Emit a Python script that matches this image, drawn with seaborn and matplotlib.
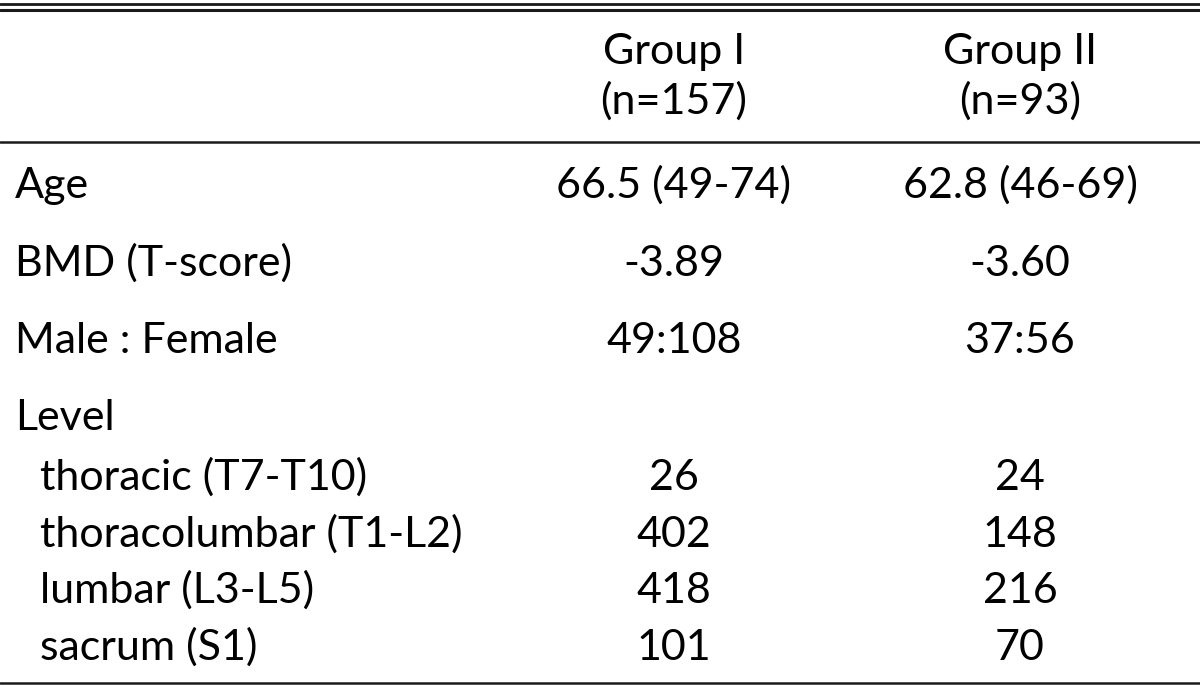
import matplotlib
matplotlib.use("Agg")
import matplotlib.pyplot as plt
import seaborn as sns

# ──────────────────────────────────────────────
# Table content
# ──────────────────────────────────────────────
group_names = ["Group I", "Group II"]
group_sizes = ["(n=157)", "(n=93)"]

row_labels = ["Age", "BMD (T-score)", "Male : Female", "Level",
              "thoracic (T7-T10)", "thoracolumbar (T1-L2)",
              "lumbar (L3-L5)", "sacrum (S1)"]
row_indented = [False, False, False, False, True, True, True, True]
group1_values = ["66.5 (49-74)", "-3.89", "49:108", "",
                 "26", "402", "418", "101"]
group2_values = ["62.8 (46-69)", "-3.60", "37:56", "",
                 "24", "148", "216", "70"]

# layout (pixel coordinates, y downwards)
W, H = 1200, 685
row_baselines = [198, 276, 353, 430, 490, 547, 603, 660]
col_centers = [674, 1020]
FONT = ["Lato", "DejaVu Sans"]
FS = 31

sns.set_theme(style="white")
plt.rcParams["font.family"] = FONT

fig = plt.figure(figsize=(12, 6.85), dpi=100)
ax = fig.add_axes([0, 0, 1, 1])
ax.set_xlim(0, W)
ax.set_ylim(H, 0)
ax.axis("off")

# rules
ax.axhline(3.5, color="#1a1a1a", lw=2.0)
ax.axhline(9.5, color="#1a1a1a", lw=2.2)
ax.axhline(142, color="#1a1a1a", lw=1.8)
ax.axhline(683, color="#1a1a1a", lw=1.8)

# header
for cx, name, n in zip(col_centers, group_names, group_sizes):
    ax.text(cx, 64, name, ha="center", va="baseline", fontsize=FS, color="black")
    ax.text(cx, 114, n, ha="center", va="baseline", fontsize=FS, color="black")

# body
for y, lab, ind, v1, v2 in zip(row_baselines, row_labels, row_indented,
                                group1_values, group2_values):
    ax.text(40 if ind else 15, y, lab, ha="left", va="baseline",
            fontsize=FS, color="black")
    ax.text(col_centers[0], y, v1, ha="center", va="baseline", fontsize=FS, color="black")
    ax.text(col_centers[1], y, v2, ha="center", va="baseline", fontsize=FS, color="black")

fig.savefig("out.png", dpi=100, facecolor="white")
